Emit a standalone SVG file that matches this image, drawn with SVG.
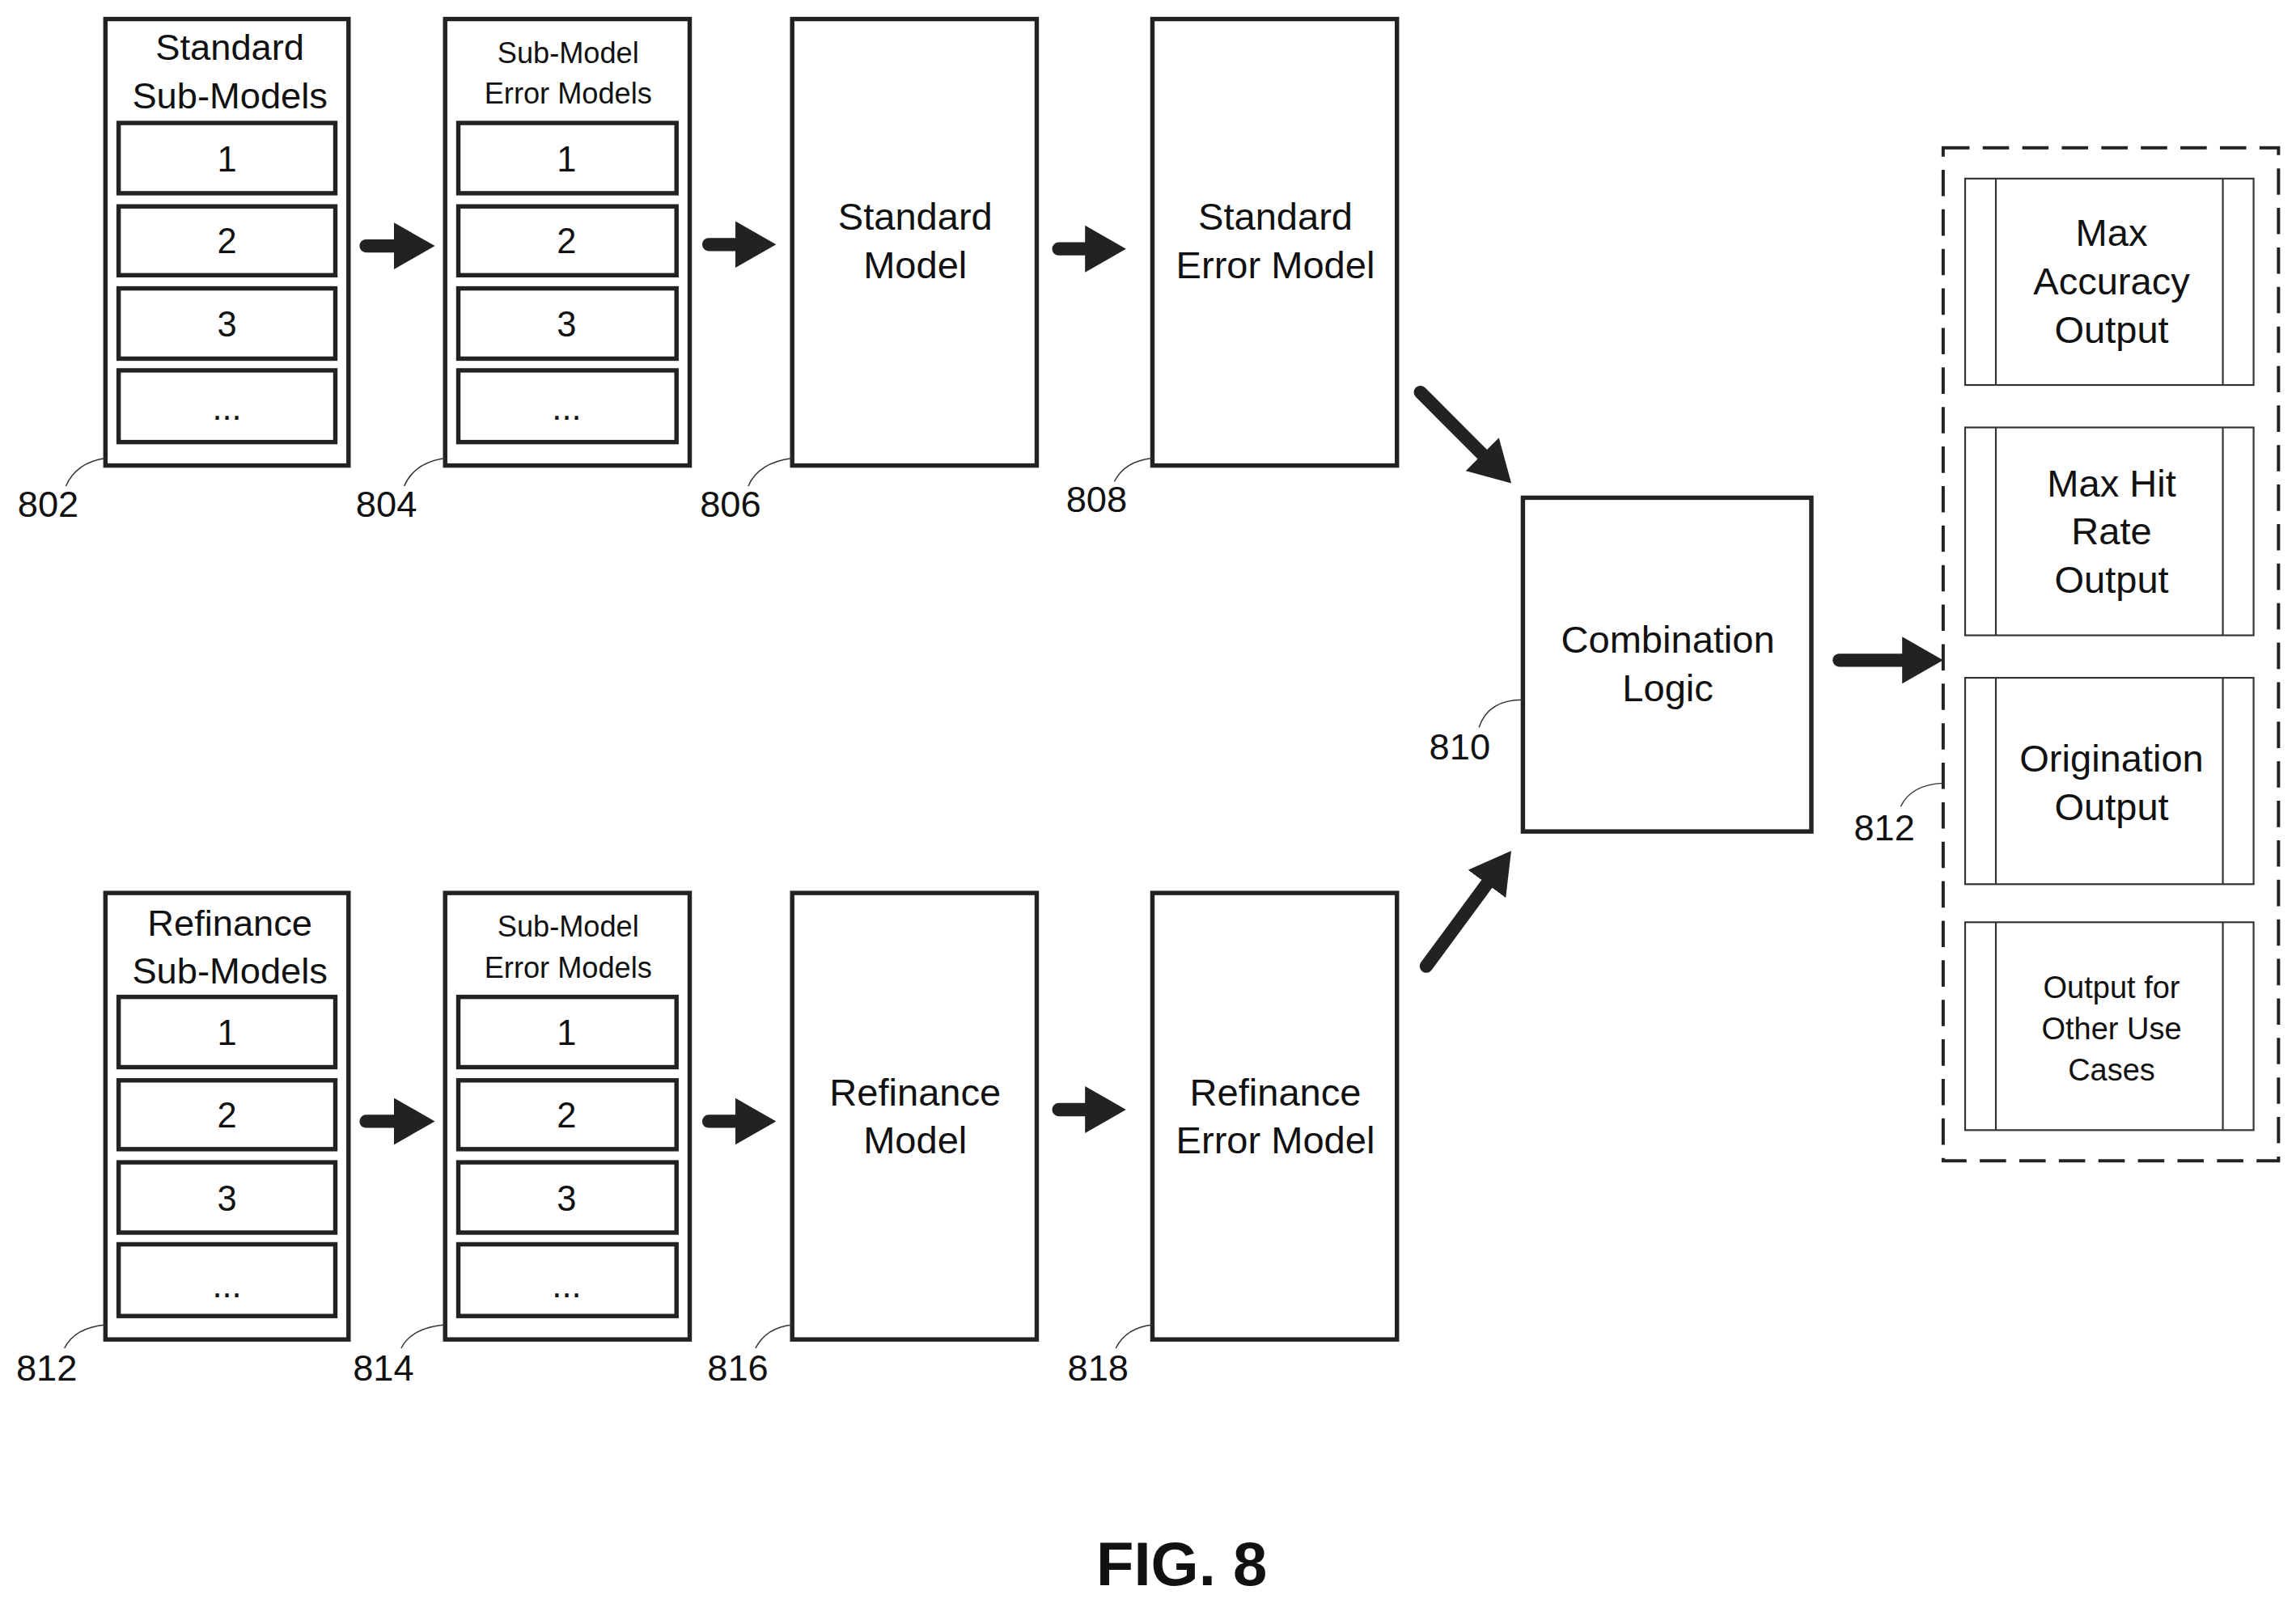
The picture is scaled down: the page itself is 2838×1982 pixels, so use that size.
<svg xmlns="http://www.w3.org/2000/svg" width="2838" height="1982" viewBox="0 0 2838 1982">
<style>
.b{fill:#fff;stroke:#222;stroke-width:3}
.i{fill:#fff;stroke:#222;stroke-width:3}
.o{fill:#fff;stroke:#333;stroke-width:1.2}
.t{font-family:"Liberation Sans",Arial,sans-serif;fill:#111;text-anchor:middle}
.lb{font-family:"Liberation Sans",Arial,sans-serif;fill:#111;font-size:25px}
.ld{fill:none;stroke:#333;stroke-width:0.8}
.ar{stroke:#222;stroke-width:9;stroke-linecap:round;fill:none}
</style>
<defs>
<marker id="h" markerUnits="userSpaceOnUse" markerWidth="30" markerHeight="32" refX="1" refY="16" orient="auto" viewBox="0 0 30 32">
<path d="M0,0 L28,16 L0,32 z" fill="#222"/>
</marker>
</defs>
<rect width="2838" height="1982" fill="#fff"/>
<g transform="scale(1.81)">
<g id="n802">
<rect class="b" x="72" y="13" width="166" height="305"/>
<text class="t" font-size="25" x="157" y="41">Standard</text>
<text class="t" font-size="25" x="157" y="74">Sub-Models</text>
<rect class="i" x="81" y="84" width="148" height="48"/><text class="t" font-size="24" x="155" y="117">1</text>
<rect class="i" x="81" y="141" width="148" height="47"/><text class="t" font-size="24" x="155" y="173">2</text>
<rect class="i" x="81" y="197" width="148" height="48"/><text class="t" font-size="24" x="155" y="230">3</text>
<rect class="i" x="81" y="253" width="148" height="49"/><text class="t" font-size="24" x="155" y="287">...</text>
</g>
<g id="n804">
<rect class="b" x="304" y="13" width="167" height="305"/>
<text class="t" font-size="20" x="388" y="43">Sub-Model</text>
<text class="t" font-size="20" x="388" y="71">Error Models</text>
<rect class="i" x="313" y="84" width="149" height="48"/><text class="t" font-size="24" x="387" y="117">1</text>
<rect class="i" x="313" y="141" width="149" height="47"/><text class="t" font-size="24" x="387" y="173">2</text>
<rect class="i" x="313" y="197" width="149" height="48"/><text class="t" font-size="24" x="387" y="230">3</text>
<rect class="i" x="313" y="253" width="149" height="49"/><text class="t" font-size="24" x="387" y="287">...</text>
</g>
<g id="n806"><rect class="b" x="541" y="13" width="167" height="305"/>
<text class="t" font-size="26" x="625" y="157">Standard</text><text class="t" font-size="26" x="625" y="190">Model</text></g>
<g id="n808"><rect class="b" x="787" y="13" width="167" height="305"/>
<text class="t" font-size="26" x="871" y="157">Standard</text><text class="t" font-size="26" x="871" y="190">Error Model</text></g>

<g id="n812a">
<rect class="b" x="72" y="610" width="166" height="305"/>
<text class="t" font-size="25" x="157" y="639">Refinance</text>
<text class="t" font-size="25" x="157" y="672">Sub-Models</text>
<rect class="i" x="81" y="681" width="148" height="48"/><text class="t" font-size="24" x="155" y="714">1</text>
<rect class="i" x="81" y="738" width="148" height="47"/><text class="t" font-size="24" x="155" y="770">2</text>
<rect class="i" x="81" y="794" width="148" height="48"/><text class="t" font-size="24" x="155" y="827">3</text>
<rect class="i" x="81" y="850" width="148" height="49"/><text class="t" font-size="24" x="155" y="886">...</text>
</g>
<g id="n814">
<rect class="b" x="304" y="610" width="167" height="305"/>
<text class="t" font-size="20" x="388" y="640">Sub-Model</text>
<text class="t" font-size="20" x="388" y="668">Error Models</text>
<rect class="i" x="313" y="681" width="149" height="48"/><text class="t" font-size="24" x="387" y="714">1</text>
<rect class="i" x="313" y="738" width="149" height="47"/><text class="t" font-size="24" x="387" y="770">2</text>
<rect class="i" x="313" y="794" width="149" height="48"/><text class="t" font-size="24" x="387" y="827">3</text>
<rect class="i" x="313" y="850" width="149" height="49"/><text class="t" font-size="24" x="387" y="886">...</text>
</g>
<g id="n816"><rect class="b" x="541" y="610" width="167" height="305"/>
<text class="t" font-size="26" x="625" y="755">Refinance</text><text class="t" font-size="26" x="625" y="788">Model</text></g>
<g id="n818"><rect class="b" x="787" y="610" width="167" height="305"/>
<text class="t" font-size="26" x="871" y="755">Refinance</text><text class="t" font-size="26" x="871" y="788">Error Model</text></g>

<g id="n810"><rect class="b" x="1040" y="340" width="197" height="228"/>
<text class="t" font-size="26" x="1139" y="446">Combination</text><text class="t" font-size="26" x="1139" y="479">Logic</text></g>

<g id="n812">
<rect x="1327" y="101" width="229" height="692" fill="none" stroke="#222" stroke-width="2.2" stroke-dasharray="18,9"/>
<rect class="o" x="1342" y="122" width="197" height="141"/><line class="o" x1="1363" y1="122" x2="1363" y2="263"/><line class="o" x1="1518" y1="122" x2="1518" y2="263"/>
<text class="t" font-size="26" x="1442" y="168">Max</text><text class="t" font-size="26" x="1442" y="201">Accuracy</text><text class="t" font-size="26" x="1442" y="234">Output</text>
<rect class="o" x="1342" y="292" width="197" height="142"/><line class="o" x1="1363" y1="292" x2="1363" y2="434"/><line class="o" x1="1518" y1="292" x2="1518" y2="434"/>
<text class="t" font-size="26" x="1442" y="339">Max Hit</text><text class="t" font-size="26" x="1442" y="372">Rate</text><text class="t" font-size="26" x="1442" y="405">Output</text>
<rect class="o" x="1342" y="463" width="197" height="141"/><line class="o" x1="1363" y1="463" x2="1363" y2="604"/><line class="o" x1="1518" y1="463" x2="1518" y2="604"/>
<text class="t" font-size="26" x="1442" y="527">Origination</text><text class="t" font-size="26" x="1442" y="560">Output</text>
<rect class="o" x="1342" y="630" width="197" height="142"/><line class="o" x1="1363" y1="630" x2="1363" y2="772"/><line class="o" x1="1518" y1="630" x2="1518" y2="772"/>
<text class="t" font-size="21" x="1442" y="682">Output for</text><text class="t" font-size="21" x="1442" y="710">Other Use</text><text class="t" font-size="21" x="1442" y="738">Cases</text>
</g>

<g id="connectors">
<line class="ar" x1="250" y1="168" x2="270" y2="168" marker-end="url(#h)"/>
<line class="ar" x1="484" y1="167" x2="503" y2="167" marker-end="url(#h)"/>
<line class="ar" x1="723" y1="170" x2="742" y2="170" marker-end="url(#h)"/>
<line class="ar" x1="250" y1="766" x2="270" y2="766" marker-end="url(#h)"/>
<line class="ar" x1="484" y1="766" x2="503" y2="766" marker-end="url(#h)"/>
<line class="ar" x1="723" y1="758" x2="742" y2="758" marker-end="url(#h)"/>
<line class="ar" x1="970" y1="268" x2="1013" y2="311" marker-end="url(#h)"/>
<line class="ar" x1="974" y1="660" x2="1016" y2="603" marker-end="url(#h)"/>
<line class="ar" x1="1256" y1="451" x2="1300" y2="451" marker-end="url(#h)"/>
</g>

<g id="labels">
<text class="lb" x="12" y="353">802</text><path class="ld" d="M45,332 Q52,316 72,313"/>
<text class="lb" x="243" y="353">804</text><path class="ld" d="M276,332 Q283,316 304,313"/>
<text class="lb" x="478" y="353">806</text><path class="ld" d="M511,332 Q518,316 541,313"/>
<text class="lb" x="728" y="350">808</text><path class="ld" d="M761,329 Q768,315 787,313"/>
<text class="lb" x="976" y="519">810</text><path class="ld" d="M1010,497 Q1016,478 1040,478"/>
<text class="lb" x="1266" y="574">812</text><path class="ld" d="M1298,551 Q1305,536 1327,535"/>
<text class="lb" x="11" y="943">812</text><path class="ld" d="M44,921 Q51,907 72,905"/>
<text class="lb" x="241" y="943">814</text><path class="ld" d="M274,921 Q281,907 304,905"/>
<text class="lb" x="483" y="943">816</text><path class="ld" d="M516,921 Q523,907 541,905"/>
<text class="lb" x="729" y="943">818</text><path class="ld" d="M762,921 Q769,907 787,905"/>
</g>
<text class="t" font-size="42" font-weight="bold" x="807" y="1083">FIG. 8</text>
</g>
</svg>
